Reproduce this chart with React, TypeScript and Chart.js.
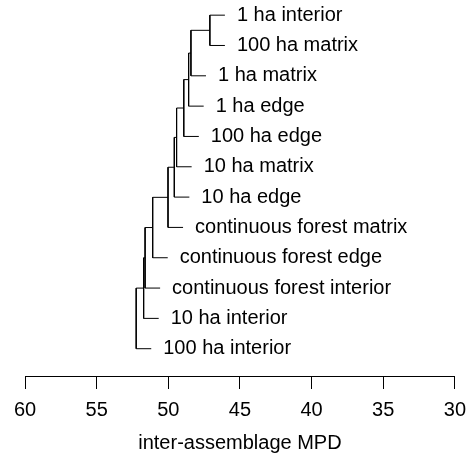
import { useEffect, useRef } from "react";
import { Chart, registerables } from "chart.js";

Chart.register(...registerables);

// Leaves in display order (top to bottom)
const leafLabels = [
  "1 ha interior",
  "100 ha matrix",
  "1 ha matrix",
  "1 ha edge",
  "100 ha edge",
  "10 ha matrix",
  "10 ha edge",
  "continuous forest matrix",
  "continuous forest edge",
  "continuous forest interior",
  "10 ha interior",
  "100 ha interior",
];

// hclust-style merges: negative = leaf number (1-based), positive = earlier merge
const mergeLeft = [-1, 1, 2, 3, 4, 5, 6, 7, 8, 9, 10];
const mergeRight = [-2, -3, -4, -5, -6, -7, -8, -9, -10, -11, -12];
const mergeHeights = [47.1, 48.42, 48.58, 48.92, 49.42, 49.58, 50.02, 51.09, 51.62, 51.72, 52.24];
const hang = 1.05;

const xMin = 30;
const xMax = 60;
const xStep = 5;
const axisTitle = "inter-assemblage MPD";

const FONT = '"Liberation Sans", Arial, Helvetica, sans-serif';

type Pos = { x: number; y: number };

function buildTree() {
  const nodes: Pos[] = [];
  const tips: number[] = new Array(leafLabels.length).fill(0);
  const segments: Pos[][] = [];
  const child = (c: number, h: number): Pos => {
    if (c < 0) {
      const idx = -c - 1;
      tips[idx] = h - hang;
      return { x: h - hang, y: idx };
    }
    return nodes[c - 1];
  };
  mergeHeights.forEach((h, k) => {
    const a = child(mergeLeft[k], h);
    const b = child(mergeRight[k], h);
    segments.push([
      { x: a.x, y: a.y },
      { x: h, y: a.y },
      { x: h, y: b.y },
      { x: b.x, y: b.y },
    ]);
    nodes.push({ x: h, y: (a.y + b.y) / 2 });
  });
  return { segments, tips };
}

export default function App() {
  const canvasRef = useRef<HTMLCanvasElement | null>(null);

  useEffect(() => {
    if (!canvasRef.current) return;
    const { segments, tips } = buildTree();

    const leafLabelPlugin = {
      id: "leafLabels",
      afterDatasetsDraw(chart: any) {
        const { ctx, scales } = chart;
        const xs = scales.x;
        const ys = scales.y;
        ctx.save();
        ctx.font = `20px ${FONT}`;
        ctx.fillStyle = "#000";
        ctx.textAlign = "left";
        ctx.textBaseline = "middle";
        leafLabels.forEach((lab, i) => {
          ctx.fillText(lab, xs.getPixelForValue(tips[i]) + 12, ys.getPixelForValue(i));
        });
        ctx.restore();
      },
    };

    const chart = new Chart(canvasRef.current, {
      type: "scatter",
      data: {
        datasets: segments.map((seg) => ({
          data: seg,
          showLine: true,
          borderColor: "#000",
          borderWidth: 1,
          pointRadius: 0,
          pointHoverRadius: 0,
          tension: 0,
          fill: false,
        })),
      },
      options: {
        responsive: true,
        maintainAspectRatio: false,
        animation: false,
        layout: { padding: { left: 25, right: 7, top: 0, bottom: 0 } },
        plugins: {
          legend: { display: false },
          tooltip: { enabled: false },
        },
        scales: {
          x: {
            type: "linear",
            position: "bottom",
            min: xMin,
            max: xMax,
            reverse: true,
            ticks: {
              stepSize: xStep,
              color: "#000",
              font: { size: 20, family: FONT },
              padding: 9,
              maxRotation: 0,
              autoSkip: false,
            },
            grid: {
              drawOnChartArea: false,
              drawTicks: true,
              tickLength: 13,
              color: "#000",
              lineWidth: 1,
            },
            border: { display: true, color: "#000", width: 1 },
            title: {
              display: true,
              text: axisTitle,
              color: "#000",
              font: { size: 20, family: FONT },
              padding: { top: 0, bottom: 6 },
            },
          },
          y: {
            type: "linear",
            display: false,
            min: -0.5,
            max: 11.9,
            reverse: true,
          },
        },
      },
      plugins: [leafLabelPlugin],
    });
    return () => chart.destroy();
  }, []);

  return (
    <div style={{ position: "fixed", left: 0, top: 0, width: 475, height: 461, background: "#fff" }}>
      <canvas ref={canvasRef} />
    </div>
  );
}
